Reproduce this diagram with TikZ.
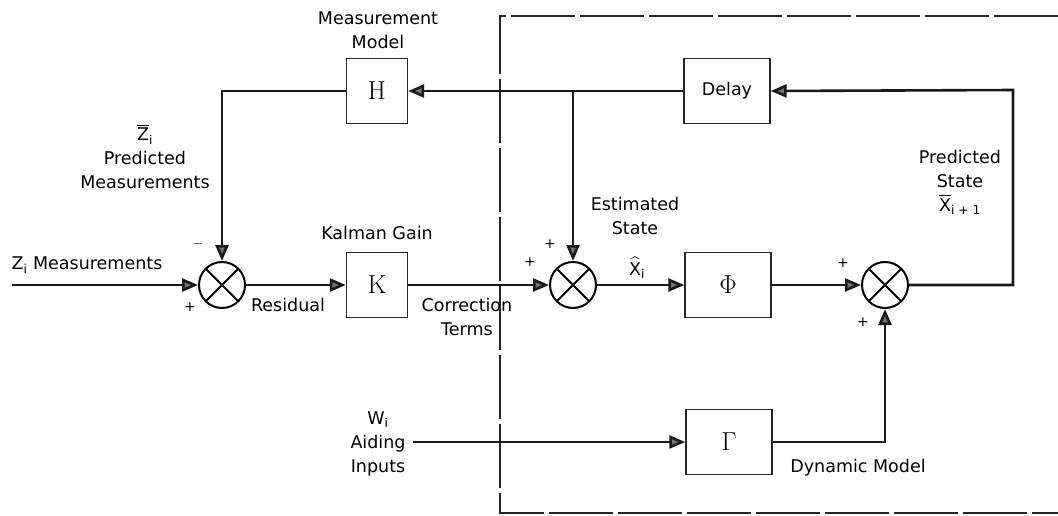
\RequirePackage{fix-cm}
\documentclass[tikz,border=0pt]{standalone}
\usepackage{amsmath}
\usepackage{fontspec}
\setsansfont{DejaVu Sans}
\usetikzlibrary{arrows.meta, calc}

\begin{document}
\begin{tikzpicture}[
        x=1pt, y=-1pt,
        blk/.style={rectangle, draw=black!85, line width=1.4pt, minimum width=61pt, minimum height=65pt, font=\fontsize{26}{30}\selectfont},
        wblk/.style={blk, minimum width=86pt},
        summ/.style={circle, draw=black, line width=2pt, minimum size=46pt, inner sep=0pt,
            path picture={\draw[line width=2pt] (path picture bounding box.north west) -- (path picture bounding box.south east)
                (path picture bounding box.north east) -- (path picture bounding box.south west);}},
        conn/.style={line width=2.6pt, draw=black!90, -{Triangle[length=16pt, width=13pt, fill=black!55]}},
        txt/.style={font=\sffamily\fontsize{17.5}{24}\selectfont, align=center, inner sep=1pt},
        sgn/.style={font=\sffamily\fontsize{14}{14}\selectfont, inner sep=0pt}
    ]
        \useasboundingbox (0,0) rectangle (1058,515);
        % estimator boundary
        \draw[black!85, line width=1.3pt, dash pattern=on 64pt off 5pt] (1058,16) -- (500,16) -- (500,513) -- (1058,513);
        % blocks
        \node[blk] (H) at (377,91) {H};
        \node[blk] (K) at (377,285) {K};
        \node[wblk] (delay) at (727,91) {\sffamily\fontsize{17.5}{20}\selectfont Delay};
        \node[wblk] (phi) at (728,285) {$\Phi$};
        \node[wblk] (gam) at (729,442) {$\Gamma$};
        \node[summ] (s1) at (222,285) {};
        \node[summ] (s2) at (573,285) {};
        \node[summ] (s3) at (885,285) {};
        \coordinate (zin) at (12,285);
        \coordinate (win) at (413,442);
        \coordinate (rc) at (1013,90);
        \coordinate (jn) at (s2 |- delay);
        % signals
        \draw[conn] (zin) -- (s1.west);
        \draw[conn] (s1.east) -- (K.west);
        \draw[conn] (K.east) -- (s2.west);
        \draw[conn] (s2.east) -- (phi.west);
        \draw[conn] (phi.east) -- (s3.west);
        \draw[conn] (s3.east) -| (rc) -- (delay.east);
        \draw[conn] (delay.west) -- (H.east);
        \draw[conn] (jn) -- (s2.north);
        \draw[conn] (H.west) -| (s1.north);
        \draw[conn] (win) -- (gam.west);
        \draw[conn] (gam.east) -| (s3.south);
        % labels
        \node[txt] (lmm) at (378,30) {Measurement\\Model};
        \node[txt] (lzin) at (87,265) {Z$_{\text{i}}$ Measurements};
        \node[txt] (lzp) at (145,157) {$\overline{\text{Z}}_{\text{i}}$\\Predicted\\Measurements};
        \node[txt] (lkg) at (377,233) {Kalman Gain};
        \node[txt] (lres) at (288,305) {Residual};
        \node[txt] (lcor) at (467,317) {Correction\\Terms};
        \node[txt] (lwi) at (378,444) {W$_{\text{i}}$\\Aiding\\Inputs};
        \node[txt] (lest) at (635,216) {Estimated\\State};
        \node[txt, inner sep=0pt] (lxh) at (637,268) {$\widehat{\text{X}}_{\text{i}}$};
        \node[txt] (lpred) at (960,182) {Predicted\\State\\$\overline{\text{X}}_{\text{i + 1}}$};
        \node[txt] (ldyn) at (858,468) {Dynamic Model};
        \node[sgn] at (198,244) {$-$};
        \node[sgn] at (190,307) {+};
        \node[sgn] at (530,262) {+};
        \node[sgn] at (550,244) {+};
        \node[sgn] at (843,263) {+};
        \node[sgn] at (863,322) {+};
\end{tikzpicture}
\end{document}
